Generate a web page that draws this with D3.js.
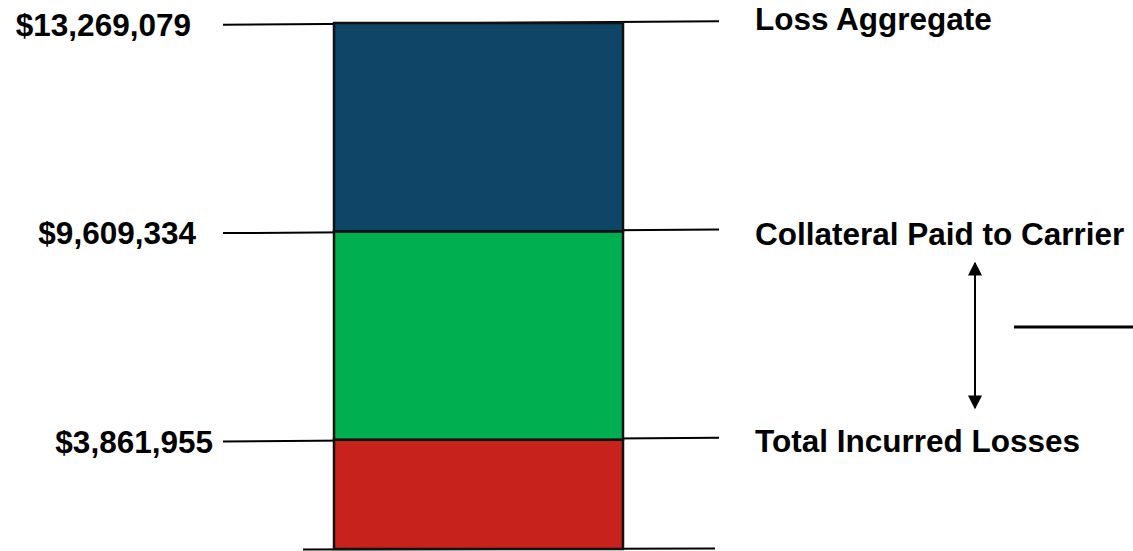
<!DOCTYPE html>
<html>
<head>
<meta charset="utf-8">
<script src="https://cdn.jsdelivr.net/npm/d3@7"></script>
<style>
  html, body { margin: 0; padding: 0; background: #fff; }
  svg text { font-family: "Liberation Sans", Arial, sans-serif; font-weight: bold; fill: #000; }
</style>
</head>
<body>
<div id="chart"></div>
<script>
// levels, bottom to top
const levelNames = ["Total Incurred Losses", "Collateral Paid to Carrier", "Loss Aggregate"];
const levelValues = [3861955, 9609334, 13269079];
// schematic heights of the stacked pieces (drawing is not to scale)
const segmentUnits = [1.05, 2, 2];
const segmentKeys = ["incurred", "collateral", "aggregate"];

const width = 1133, height = 551;
const colors = { incurred: "#c8221c", collateral: "#00af50", aggregate: "#0f4567" };

const svg = d3.select("#chart").append("svg")
    .attr("width", width)
    .attr("height", height);

const tops = d3.cumsum(segmentUnits);
const segments = segmentKeys.map((k, i) => ({
    key: k,
    y0: i === 0 ? 0 : tops[i - 1],
    y1: tops[i]
}));

const x = d3.scaleBand().domain(["program"]).range([334, 623]);
const y = d3.scaleLinear().domain([0, d3.sum(segmentUnits)]).range([549, 23]);

// leader lines, slightly tilted like the original drawing
const tilt = 1.8;
svg.append("g").selectAll("line.level")
    .data(levelValues)
    .join("line")
    .attr("class", "level")
    .attr("x1", 223).attr("x2", 719)
    .attr("y1", (d, i) => y(tops[i]) + tilt)
    .attr("y2", (d, i) => y(tops[i]) - tilt)
    .attr("stroke", "#000")
    .attr("stroke-width", 2);

svg.append("line")
    .attr("x1", 303).attr("x2", 715)
    .attr("y1", y(0) + 0.6).attr("y2", y(0) - 0.6)
    .attr("stroke", "#000")
    .attr("stroke-width", 2);

svg.append("g").selectAll("rect")
    .data(segments)
    .join("rect")
    .attr("x", x("program"))
    .attr("width", x.bandwidth())
    .attr("y", d => y(d.y1))
    .attr("height", d => y(d.y0) - y(d.y1))
    .attr("fill", d => colors[d.key])
    .attr("stroke", "#111")
    .attr("stroke-width", 2.5);

// dollar labels on the left
const fmt = d3.format("$,");
svg.append("g").selectAll("text")
    .data(levelValues)
    .join("text")
    .attr("x", (d, i) => [213, 196, 191][i])
    .attr("y", (d, i) => y(tops[i]) + 13)
    .attr("text-anchor", "end")
    .style("font-size", "31.5px")
    .text(d => fmt(d));

// level names on the right
svg.append("g").selectAll("text")
    .data(levelNames)
    .join("text")
    .attr("x", 755)
    .attr("y", (d, i) => y(tops[i]) + [12, 14, 7][i])
    .style("font-size", "31.5px")
    .text(d => d);

// double arrow between the two lower names
const defs = svg.append("defs");
defs.append("marker")
    .attr("id", "head")
    .attr("viewBox", "0 0 10 10")
    .attr("refX", 9).attr("refY", 5)
    .attr("markerWidth", 7).attr("markerHeight", 7)
    .attr("markerUnits", "strokeWidth")
    .attr("orient", "auto-start-reverse")
    .append("path")
    .attr("d", "M0,0L10,5L0,10Z")
    .attr("fill", "#000");

svg.append("line")
    .attr("x1", 975).attr("x2", 975)
    .attr("y1", 263).attr("y2", 408)
    .attr("stroke", "#000")
    .attr("stroke-width", 2)
    .attr("marker-start", "url(#head)")
    .attr("marker-end", "url(#head)");

svg.append("line")
    .attr("x1", 1014).attr("x2", width)
    .attr("y1", 327).attr("y2", 327)
    .attr("stroke", "#000")
    .attr("stroke-width", 3);
</script>
</body>
</html>
